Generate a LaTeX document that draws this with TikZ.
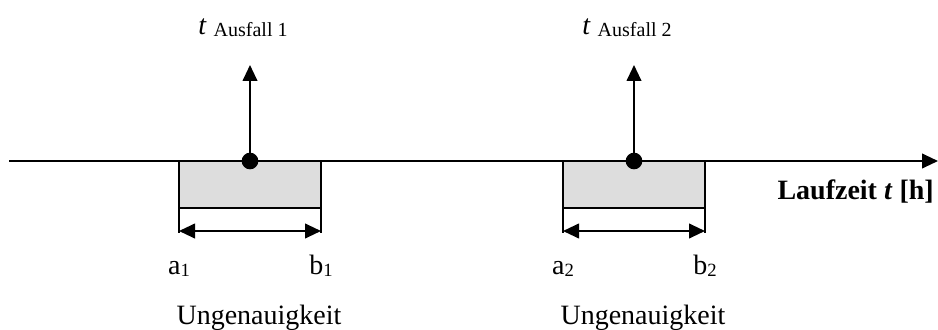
\documentclass[tikz,border=0pt]{standalone}
\usepackage{fontspec}
\setmainfont{Liberation Serif}
\usepackage{xcolor}
\definecolor{WindowGray}{RGB}{221,221,221}
\usetikzlibrary{positioning}
\usetikzlibrary{calc}
\usetikzlibrary{arrows.meta}

\newcommand{\lowidx}[1]{\raisebox{-1.5pt}{\fontsize{14}{14}\selectfont #1}}

\begin{document}
\begin{tikzpicture}[
      , x=0.75pt, y=0.75pt
      , window/.style={draw, line width=1.5pt, fill=WindowGray, anchor=north, inner sep=0pt, outer sep=0pt, minimum width=106.5pt, minimum height=35.25pt}
      , failure/.style={circle, fill=black, inner sep=0pt, outer sep=0pt, minimum size=12.5pt}
      , bar/.style={line width=1.5pt}
      , txt/.style={font=\fontsize{21}{25}\selectfont, inner sep=0pt, anchor=base}
      , on grid
      ]

      \tikzset{>={Triangle[length=12pt, width=11pt]}}

      \useasboundingbox (0,0) rectangle (938,329);

      \coordinate (axis-start) at (9,168);
      \coordinate (axis-end) at (938,168);

      \node[window] (win1) at (250,168) {};
      \node[window] (win2) at (634,168) {};

      \draw[->, bar] (axis-start) -- (axis-end);

      % failure points with arrows up
      \node[failure] (f1) at (win1.north) {};
      \node[failure] (f2) at (win2.north) {};
      \coordinate[above = 72pt of f1] (top1);
      \coordinate[above = 72pt of f2] (top2);
      \draw[->, bar] (f1.center) -- (top1);
      \draw[->, bar] (f2.center) -- (top2);

      \node[txt] (t1) at ($ (top1) + (-7,30) $) {\textit{t} \raisebox{-1.5pt}{\fontsize{15}{15}\selectfont Ausfall 1}};
      \node[txt] (t2) at ($ (top2) + (-7,30) $) {\textit{t} \raisebox{-1.5pt}{\fontsize{15}{15}\selectfont Ausfall 2}};

      % uncertainty intervals
      \coordinate[below = 18.75pt of win1.south west] (a1-tick);
      \coordinate[below = 18.75pt of win1.south east] (b1-tick);
      \coordinate[below = 17.25pt of win1.south west] (a1-arr);
      \coordinate[below = 17.25pt of win1.south east] (b1-arr);
      \draw[bar] (win1.south west) -- (a1-tick);
      \draw[bar] (win1.south east) -- (b1-tick);
      \draw[<->, bar] (a1-arr) -- (b1-arr);

      \coordinate[below = 18.75pt of win2.south west] (a2-tick);
      \coordinate[below = 18.75pt of win2.south east] (b2-tick);
      \coordinate[below = 17.25pt of win2.south west] (a2-arr);
      \coordinate[below = 17.25pt of win2.south east] (b2-arr);
      \draw[bar] (win2.south west) -- (a2-tick);
      \draw[bar] (win2.south east) -- (b2-tick);
      \draw[<->, bar] (a2-arr) -- (b2-arr);

      \node[txt] (a1) at ($ (win1.south west) + (0,-66) $) {a\lowidx{1}};
      \node[txt] (b1) at ($ (win1.south east) + (0,-66) $) {b\lowidx{1}};
      \node[txt] (a2) at ($ (win2.south west) + (0,-66) $) {a\lowidx{2}};
      \node[txt] (b2) at ($ (win2.south east) + (0,-66) $) {b\lowidx{2}};

      \node[txt] (u1) at ($ (win1.south) + (9,-116) $) {Ungenauigkeit};
      \node[txt] (u2) at ($ (win2.south) + (9,-116) $) {Ungenauigkeit};

      \node[txt, anchor=base east] (xlabel) at (934,130) {\textbf{Laufzeit \textit{t} [h]}};
    \end{tikzpicture}
\end{document}
